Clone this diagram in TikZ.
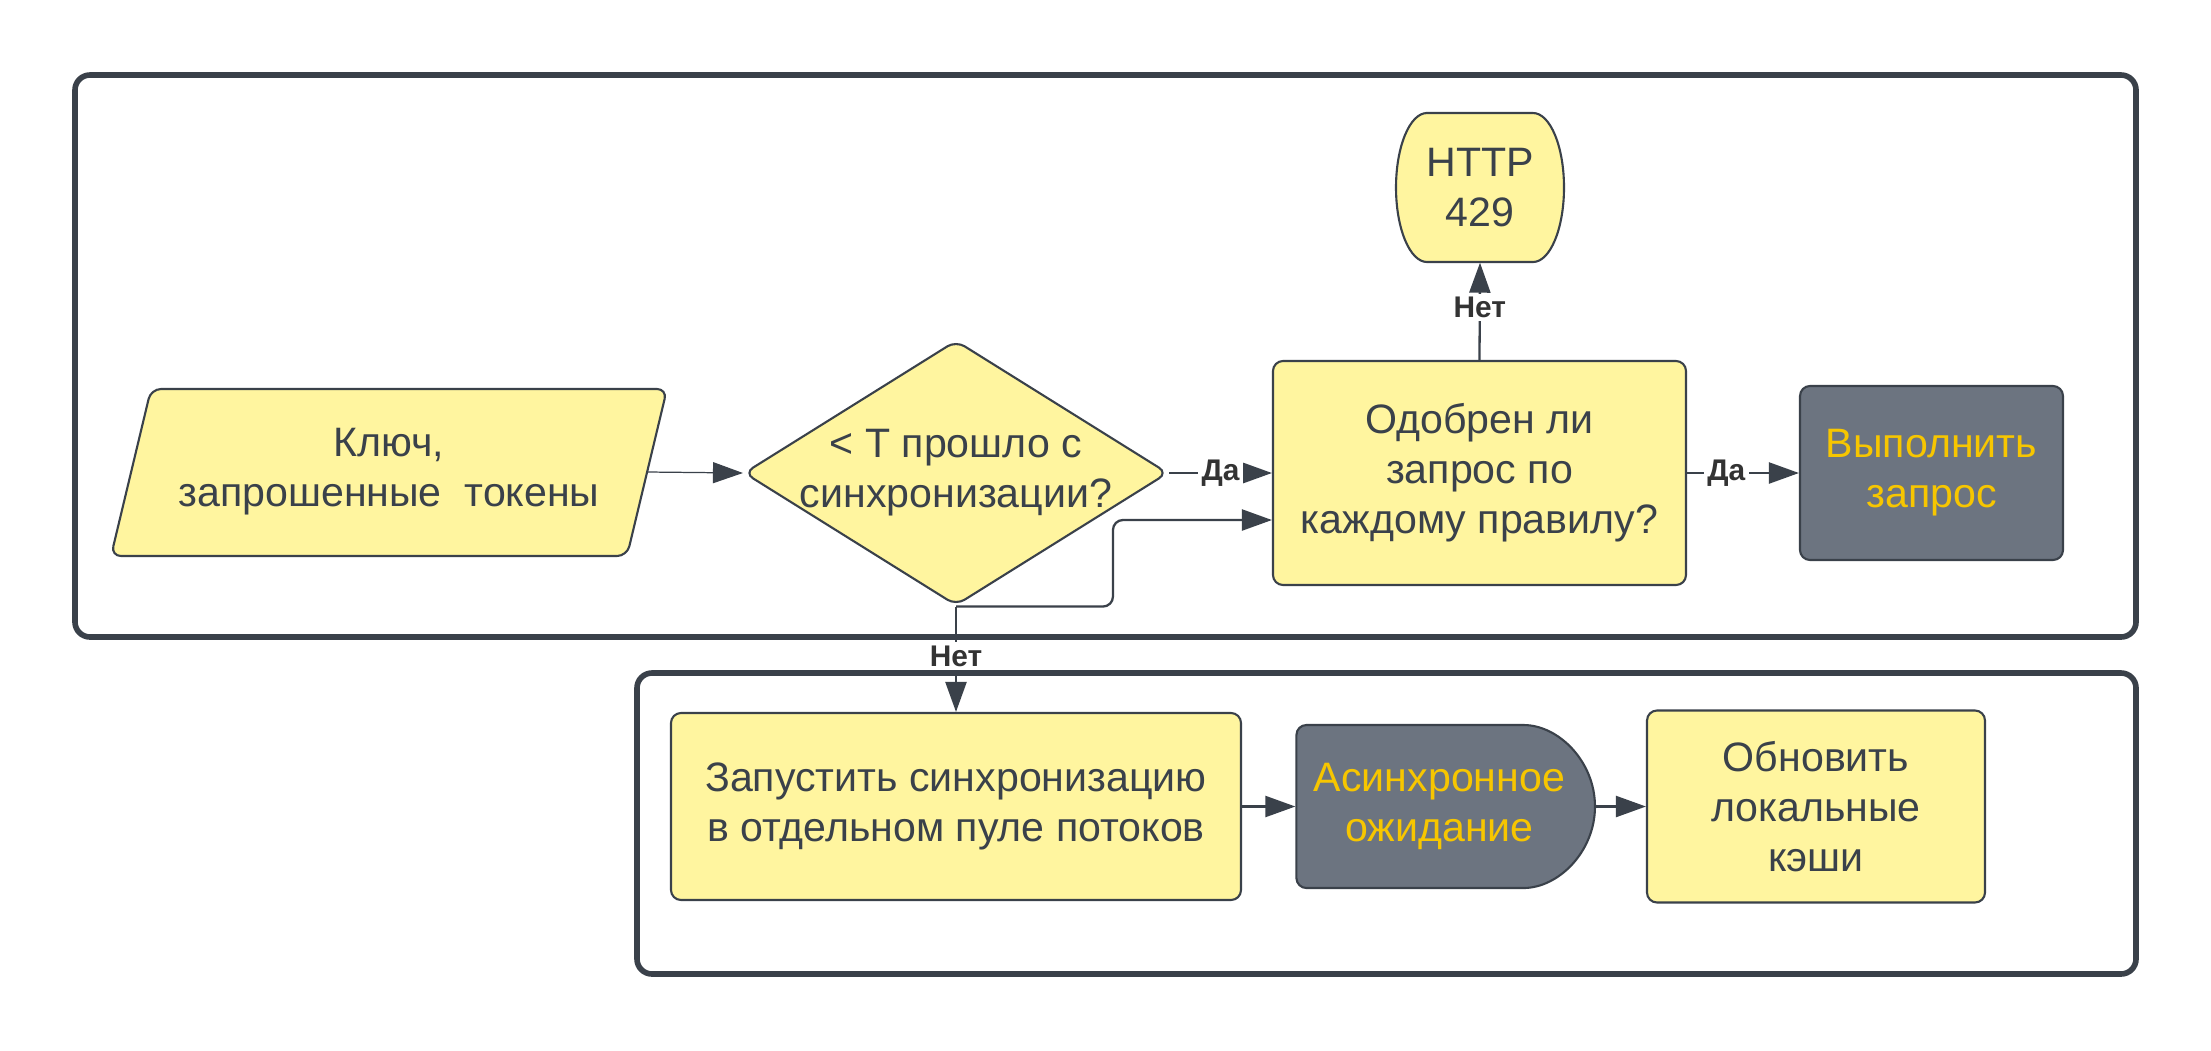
\documentclass[tikz,border=0pt]{standalone}
\usepackage{fontspec}
\setmainfont{Liberation Sans}
\usetikzlibrary{shapes.geometric,shapes.misc,arrows.meta}
\definecolor{lucidyellow}{HTML}{FFF59F}
\definecolor{lucidslate}{HTML}{6C7480}
\definecolor{lucidgold}{HTML}{F7C600}
\definecolor{lucidink}{HTML}{3A414A}
\definecolor{labelink}{HTML}{333333}

\begin{document}
\begin{tikzpicture}[
  every node/.style={font=\fontsize{11.7}{14.2}\selectfont, text=lucidink, align=center},
  shapeline/.style={draw=lucidink, line width=0.6pt},
  yellowbox/.style={shapeline, fill=lucidyellow, rounded corners=0.1cm},
  slatebox/.style={shapeline, fill=lucidslate, text=lucidgold, rounded corners=0.1cm},
  flow/.style={draw=lucidink, line width=0.65pt, -{Triangle[length=0.3cm, width=0.21cm]}},
  answer/.style={font=\fontsize{8.5}{10}\selectfont\bfseries, text=labelink, fill=white, inner sep=1pt},
  groupframe/.style={draw=lucidink, line width=1.6pt, rounded corners=0.15cm}
]
\useasboundingbox (0,0) rectangle (22.11,-10.5);

% Draw the two group frames
\draw[groupframe] (0.75,-0.75) rectangle (21.36,-6.37);
\draw[groupframe] (6.37,-6.73) rectangle (21.36,-9.74);

% Draw the input parallelogram
\filldraw[yellowbox] (1.51,-3.89) -- (6.67,-3.89) -- (6.27,-5.56) -- (1.11,-5.56) -- cycle;

% Draw the HTTP 429 terminator outline
\filldraw[shapeline, fill=lucidyellow] (14.27,-1.13) -- (15.33,-1.13)
  arc[start angle=90, end angle=-90, x radius=0.31, y radius=0.745] -- (14.27,-2.62)
  arc[start angle=270, end angle=90, x radius=0.31, y radius=0.745] -- cycle;

% Upper group: request check
\node[minimum width=5.16cm, minimum height=1.67cm] (key) at (3.89,-4.72) {Ключ,\\запрошенные~~токены};
\node[yellowbox, diamond, minimum width=4.24cm, minimum height=2.65cm,
  label={[align=center]center:{< T прошло с\\синхронизации?}}] (sync) at (9.56,-4.73) {};
\node[yellowbox, minimum width=4.13cm, minimum height=2.24cm] (check) at (14.795,-4.73) {Одобрен ли\\запрос по\\каждому правилу?};
\node[minimum height=1.49cm] (http) at (14.80,-1.875) {HTTP\\429};
\node[slatebox, minimum width=2.63cm, minimum height=1.74cm] (run) at (19.315,-4.73) {Выполнить\\запрос};

% Lower group: background sync
\node[yellowbox, minimum width=5.70cm, minimum height=1.87cm] (start) at (9.56,-8.065) {Запустить синхронизацию\\в отдельном пуле потоков};
\node[slatebox, rounded rectangle, rounded rectangle left arc=none,
  minimum width=3.22cm, minimum height=1.63cm] (wait) at (14.395,-8.065) {Асинхронное\\ожидание};
\node[yellowbox, minimum width=3.38cm, minimum height=1.92cm] (cache) at (18.16,-8.065) {Обновить\\локальные\\кэши};

% Connectors
\draw[flow, line width=0.35pt] (key.east) -- (sync.west);
\draw[flow] (sync.east) -- node[answer, pos=0.5] {Да} (check.west);
\draw[flow, rounded corners=0.1cm] (sync.south) -| ([xshift=-1.59cm, yshift=-0.47cm]check.west) -- ([yshift=-0.47cm]check.west);
\draw[flow] (check.north) -- node[answer, pos=0.54] {Нет} (http.south);
\draw[flow] (check.east) -- node[answer, pos=0.35] {Да} (run.west);
\draw[flow] (sync.south) -- node[answer, pos=0.47] {Нет} (start.north);
\draw[flow] (start.east) -- (wait.west);
\draw[flow] (wait.east) -- (cache.west);
\end{tikzpicture}
\end{document}
